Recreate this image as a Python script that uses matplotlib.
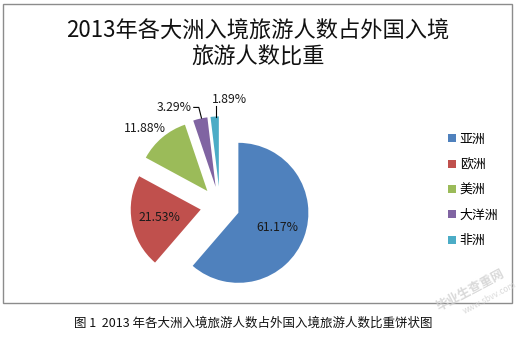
import matplotlib
matplotlib.use("Agg")
import matplotlib.pyplot as plt
from matplotlib.patches import Rectangle
from matplotlib.lines import Line2D
import numpy as np

plt.rcParams['font.family'] = ['Noto Sans CJK SC', 'DejaVu Sans']

categories = ['亚洲', '欧洲', '美洲', '大洋洲', '非洲']
shares = [61.17, 21.53, 11.88, 3.29, 1.89]
colors = ['#4F81BD', '#C0504D', '#9BBB59', '#8064A2', '#4BACC6']
title = '2013年各大洲入境旅游人数占外国入境\n旅游人数比重'
caption = '图 1  2013 年各大洲入境旅游人数占外国入境旅游人数比重饼状图'

W, H = 518, 345
fig = plt.figure(figsize=(W / 100, H / 100), dpi=100)

# chart frame
fig.patches.append(Rectangle((3 / W, 1 - 303 / H), 509 / W, 299 / H,
                             transform=fig.transFigure, fill=False,
                             edgecolor='#8c8c8c', linewidth=1.0))

cx, cy, R = 220, 206, 70
side = 4 * R
ax = fig.add_axes([(cx - side / 2) / W, 1 - (cy + side / 2) / H, side / W, side / H])
explode = [0.28] * len(shares)
lbls = ['%.2f%%' % s for s in shares]
wedges, _ = ax.pie(shares, colors=colors, startangle=90, counterclock=False,
                   explode=explode, radius=1, wedgeprops=dict(linewidth=0))
ax.set_xlim(-2, 2)
ax.set_ylim(-2, 2)
ax.set_aspect('equal')
ax.axis('off')

FS = 8.8
TC = '#1a1a1a'
for i, w in enumerate(wedges):
    ang = np.deg2rad((w.theta1 + w.theta2) / 2)
    d = np.array([np.cos(ang), np.sin(ang)])
    c = np.array(w.center)
    edge = c + d
    if i < 2:
        p = c + d * 0.6
        ax.text(p[0], p[1], lbls[i], ha='center', va='center', fontsize=FS, color=TC)
    elif i == 2:
        a2 = ang + np.deg2rad(4)
        p = np.array([np.cos(a2), np.sin(a2)]) * 1.54
        ax.text(p[0], p[1], lbls[i], ha='center', va='center', fontsize=FS, color=TC)
    elif i == 3:
        tx, ty = edge[0] - 0.1, edge[1] + 0.16
        ax.plot([edge[0] + 0.02, edge[0] - 0.02, tx], [edge[1] + 0.0, ty, ty],
                color='black', lw=0.8, solid_capstyle='butt')
        ax.text(tx - 0.02, ty, lbls[i], ha='right', va='center', fontsize=FS, color=TC)
    else:
        tx, ty = edge[0] + 0.02, edge[1] + 0.15
        ax.plot([tx, tx], [edge[1] + 0.0, ty], color='black', lw=0.8)
        ax.text(tx - 0.06, ty + 0.1, lbls[i], ha='left', va='center', fontsize=FS, color=TC)

# title
fig.text(258 / W, 1 - 44 / H, title, ha='center', va='center', fontsize=16,
         fontweight='normal', linespacing=1.2, color='#111111')

# legend
handles = [Line2D([], [], linestyle='none', marker='s', markersize=6,
                  markerfacecolor=c, markeredgewidth=0) for c in colors]
fig.legend(handles, categories, loc='upper left',
           bbox_to_anchor=(448 / W, 1 - 133 / H), frameon=False,
           fontsize=9.3, handlelength=0.6, handletextpad=0.3,
           labelspacing=0.95, borderaxespad=0, borderpad=0)

# caption
fig.text(253 / W, 1 - 323 / H, caption, ha='center', va='center', fontsize=9, color='#111111')

# watermark
fig.text(470 / W, 1 - 290 / H, '毕业生查重网', ha='center', va='center', fontsize=9,
         rotation=28, color='#d0d0d0', alpha=0.8, fontweight='bold')
fig.text(490 / W, 1 - 298 / H, 'www.sbvv.com', ha='center', va='center', fontsize=6,
         rotation=28, color='#d0d0d0', alpha=0.8)

fig.savefig('out.png', dpi=100)
